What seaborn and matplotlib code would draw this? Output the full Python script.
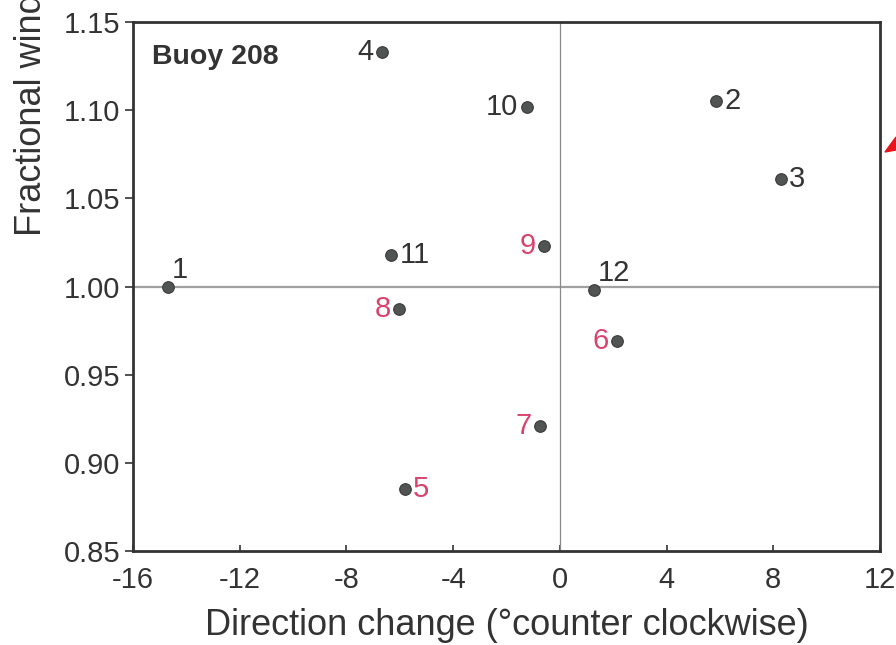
import matplotlib
matplotlib.use("Agg")
import matplotlib.pyplot as plt
import seaborn as sns
import pandas as pd
from matplotlib.patches import Polygon

# Monthly mean direction change vs fractional wind speed, Buoy 208
months = [1, 2, 3, 4, 5, 6, 7, 8, 9, 10, 11, 12]
direction_change = [-14.7, 5.85, 8.28, -6.67, -5.81, 2.14, -0.75, -6.03, -0.60, -1.24, -6.33, 1.27]
fractional_wind = [1.000, 1.105, 1.061, 1.133, 0.885, 0.969, 0.921, 0.987, 1.023, 1.102, 1.018, 0.998]
# label placement and colour per month
label_side = ["ur", "r", "r", "l", "r", "l", "l", "l", "l", "l", "r", "ur"]
pink_months = [5, 6, 7, 8, 9]

x_ticks = [-16, -12, -8, -4, 0, 4, 8, 12]
y_ticks = [0.85, 0.90, 0.95, 1.00, 1.05, 1.10, 1.15]

df = pd.DataFrame({"month": months, "dir": direction_change, "frac": fractional_wind})

sns.set_theme(style="ticks")
plt.rcParams["font.family"] = ["Liberation Sans", "DejaVu Sans"]

fig = plt.figure(figsize=(8.96, 6.45), dpi=100)
ax = fig.add_axes([133 / 896, 1 - 551 / 645, (880 - 133) / 896, (551 - 22) / 645])

ax.axhline(1.0, color="#a0a0a0", lw=1.6, zorder=1)
ax.axvline(0.0, color="#8a8a8a", lw=0.9, zorder=1)

sns.scatterplot(data=df, x="dir", y="frac", ax=ax, color="#505452", s=70,
                edgecolor="#3a3a3a", linewidth=0.8, zorder=3, legend=False)

for m, xv, yv, side in zip(months, direction_change, fractional_wind, label_side):
    col = "#d9436e" if m in pink_months else "#333333"
    if side == "r":
        ax.annotate(str(m), (xv, yv), xytext=(6, 0), textcoords="offset points",
                    ha="left", va="center", fontsize=21, color=col)
    elif side == "l":
        ax.annotate(str(m), (xv, yv), xytext=(-6, 0), textcoords="offset points",
                    ha="right", va="center", fontsize=21, color=col)
    else:
        ax.annotate(str(m), (xv, yv), xytext=(3, 2), textcoords="offset points",
                    ha="left", va="bottom", fontsize=21, color=col)

ax.text(0.025, 0.934, "Buoy 208", transform=ax.transAxes, fontsize=20.5,
        fontweight="bold", color="#333333", ha="left", va="center")

ax.set_xlim(-16, 12)
ax.set_ylim(0.85, 1.15)
ax.set_xticks(x_ticks)
ax.set_xticklabels([str(t) for t in x_ticks])
ax.set_yticks(y_ticks)
ax.set_yticklabels([f"{t:.2f}" for t in y_ticks])
ax.tick_params(axis="y", direction="out", length=6, width=1.2, labelsize=21,
               colors="#333333", pad=3)
ax.tick_params(axis="x", direction="in", length=4, width=1.2, labelsize=21,
               colors="#333333", pad=11)
for sp in ax.spines.values():
    sp.set_color("#333333")
    sp.set_linewidth(2.0)

ax.set_xlabel("Direction change (\u00b0counter clockwise)", fontsize=26,
              color="#333333", labelpad=10)
ax.set_ylabel("Fractional wind speed", fontsize=26, color="#333333")
ax.yaxis.label.set_horizontalalignment("left")
ax.yaxis.set_label_coords(-0.113, (551 - 236) / 529)

# fragment of a red pointer entering from the right edge
fig.patches.append(Polygon([[885 / 896, 1 - 152 / 645], [896 / 896, 1 - 137 / 645],
                            [896 / 896, 1 - 150 / 645]], closed=True,
                           transform=fig.transFigure, color="#e8141c"))

fig.savefig("out.png", dpi=100, facecolor="white")
